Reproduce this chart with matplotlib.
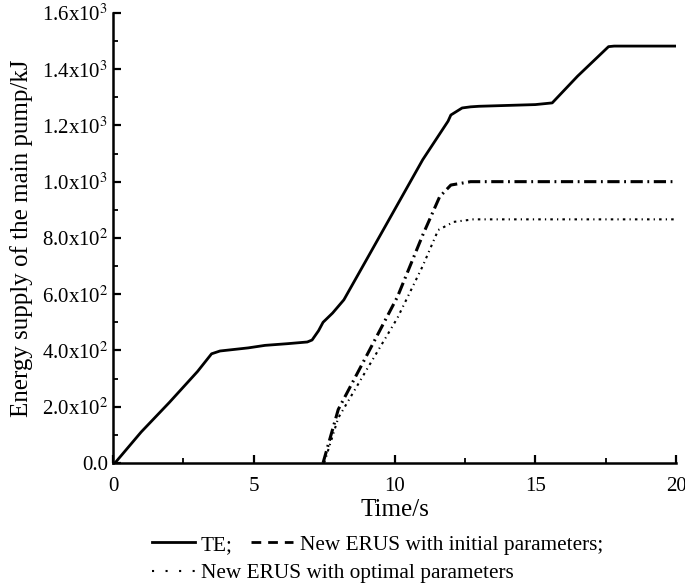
import matplotlib.pyplot as plt
from matplotlib.lines import Line2D
from matplotlib.ticker import MultipleLocator, FixedLocator

plt.rcParams['font.family'] = ['Liberation Serif', 'DejaVu Serif']
plt.rcParams['mathtext.fontset'] = 'stix'

# TE curve (time in s, energy in kJ)
te_t = [0.0, 0.07, 1.0, 2.0, 3.0, 3.5, 3.8, 4.8, 5.4, 6.2, 6.9, 7.07, 7.3, 7.46,
        7.8, 8.2, 9.0, 10.0, 11.0, 11.9, 12.0, 12.4, 12.7, 13.0, 14.0, 15.0, 15.6,
        16.5, 17.6, 17.8, 20.0]
te_v = [0, 0, 110, 215, 325, 388, 398, 409, 418, 424, 430, 437, 470, 500,
        533, 580, 722, 900, 1078, 1215, 1237, 1262, 1266, 1268, 1271, 1274, 1280,
        1375, 1480, 1482, 1482]

# New ERUS with initial parameters
init_t = [7.46, 8.0, 9.0, 10.1, 11.0, 11.6, 12.0, 12.7, 13.5, 20.0]
init_v = [0, 190, 380, 590, 810, 946, 988, 1000, 1000, 1000]

# New ERUS with optimal parameters
opt_t = [7.5, 8.0, 9.0, 10.1, 11.0, 11.55, 12.1, 12.8, 13.5, 20.0]
opt_v = [0, 160, 330, 515, 700, 828, 857, 866, 866, 866]

y_ticks = [0, 200, 400, 600, 800, 1000, 1200, 1400, 1600]
y_labels = ['0.0', r'2.0x10$^2$', r'4.0x10$^2$', r'6.0x10$^2$', r'8.0x10$^2$',
            r'1.0x10$^3$', r'1.2x10$^3$', r'1.4x10$^3$', r'1.6x10$^3$']

fig = plt.figure(figsize=(6.85, 5.86), dpi=100)
ax = fig.add_axes([0.165, 0.21, 0.822, 0.768])

ax.plot(te_t, te_v, color='black', lw=2.0, solid_joinstyle='round')
ax.plot(init_t, init_v, color='black', lw=2.2, dashes=(4, 1.5, 0.6, 1.5))
ax.plot(opt_t, opt_v, color='black', lw=1.5, dashes=(1.2, 2.0, 0.6, 2.0))

ax.set_xlim(0, 20)
ax.set_ylim(0, 1600)
ax.xaxis.set_major_locator(MultipleLocator(5))
ax.xaxis.set_minor_locator(MultipleLocator(2.5))
ax.yaxis.set_major_locator(FixedLocator(y_ticks))
ax.yaxis.set_minor_locator(MultipleLocator(100))
ax.set_yticklabels(y_labels)

for side in ['top', 'right']:
    ax.spines[side].set_visible(False)
for side in ['left', 'bottom']:
    ax.spines[side].set_linewidth(1.8)
ax.tick_params(which='major', direction='in', length=6, width=1.6, labelsize=15)
ax.tick_params(which='minor', direction='in', length=3.5, width=1.3)
ax.tick_params(axis='x', pad=10)

ax.set_xlabel('Time/s', fontsize=18, labelpad=2)
ax.set_ylabel('Energy supply of the main pump/kJ', fontsize=18, labelpad=6)

# legend, laid out as in the figure: two entries on row 1, one on row 2
h_te = Line2D([], [], color='black', lw=2.0)
h_init = Line2D([], [], color='black', lw=2.0, ls=(0, (3.5, 2.5)))
h_opt = Line2D([], [], color='black', lw=1.5, ls=(0, (1, 5.5)))
kw = dict(frameon=False, fontsize=15.3, handlelength=2.0, handletextpad=0.3,
          columnspacing=0.85, borderpad=0, borderaxespad=0)
leg1 = fig.legend([h_te, h_init], ['TE;', 'New ERUS with initial parameters;'],
                  ncol=2, loc='center left', bbox_to_anchor=(0.222, 0.070), **kw)
leg2 = fig.legend([h_opt], ['New ERUS with optimal parameters'],
                  loc='center left', bbox_to_anchor=(0.222, 0.022), **kw)

fig.savefig('out.png', dpi=100)
